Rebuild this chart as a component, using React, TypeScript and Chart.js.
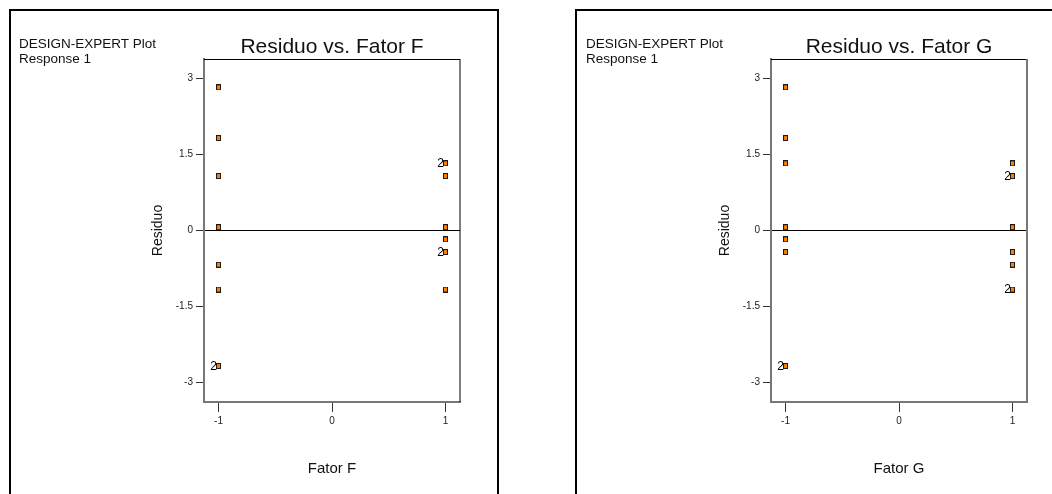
import React, { useEffect, useRef } from "react";
import { Chart, registerables } from "chart.js";

Chart.register(...registerables);

// ---- data ----
const fatorFLevels = [-1, -1, -1, -1, -1, -1, -1, 1, 1, 1, 1, 1, 1];
const residuoF = [2.82, 1.82, 1.07, 0.06, -0.68, -1.17, -2.68, 1.32, 1.07, 0.06, -0.18, -0.43, -1.17];
const countF = [1, 1, 1, 1, 1, 1, 2, 2, 1, 1, 1, 2, 1];

const fatorGLevels = [-1, -1, -1, -1, -1, -1, -1, 1, 1, 1, 1, 1, 1];
const residuoG = [2.82, 1.82, 1.32, 0.06, -0.18, -0.43, -2.68, 1.32, 1.07, 0.06, -0.43, -0.68, -1.17];
const countG = [1, 1, 1, 1, 1, 1, 2, 1, 2, 1, 1, 1, 2];

const yTickValues = [-3, -1.5, 0, 1.5, 3];
const yTickLabels = ["-3", "-1.5", "0", "1.5", "3"];
const xTickValues = [-1, 0, 1];
const xTickLabels = ["-1", "0", "1"];

const headerLines = ["DESIGN-EXPERT Plot", "Response 1"];
const yAxisTitle = "Residuo";

const FONT = '"Liberation Sans", Arial, Helvetica, sans-serif';

function makeMarker(): HTMLCanvasElement {
  const c = document.createElement("canvas");
  c.width = 5;
  c.height = 6;
  const g = c.getContext("2d")!;
  g.fillStyle = "#1a1a1a";
  g.fillRect(0, 0, 5, 6);
  g.fillStyle = "#ff8000";
  g.fillRect(1, 1, 3, 4);
  return c;
}

type PanelProps = {
  title: string;
  xTitle: string;
  levels: number[];
  values: number[];
  counts: number[];
  rightFrameColor: string;
  rightFrameWidth: number;
};

function Panel({ title, xTitle, levels, values, counts, rightFrameColor, rightFrameWidth }: PanelProps) {
  const ref = useRef<HTMLCanvasElement | null>(null);

  useEffect(() => {
    if (!ref.current) return;
    const marker = makeMarker();

    const textPlugin = {
      id: "dxText",
      beforeDatasetsDraw(chart: any) {
        const { ctx, chartArea } = chart;
        ctx.save();
        ctx.strokeStyle = "#000";
        ctx.lineWidth = 1;
        ctx.beginPath();
        ctx.moveTo(chartArea.left, chartArea.top + 0.5);
        ctx.lineTo(chartArea.right, chartArea.top + 0.5);
        ctx.stroke();
        ctx.strokeStyle = rightFrameColor;
        ctx.lineWidth = rightFrameWidth;
        ctx.beginPath();
        ctx.moveTo(chartArea.right, chartArea.top);
        ctx.lineTo(chartArea.right, chartArea.bottom);
        ctx.stroke();
        ctx.restore();
      },
      afterDraw(chart: any) {
        const { ctx, chartArea } = chart;
        const cx = (chartArea.left + chartArea.right) / 2;
        const cy = (chartArea.top + chartArea.bottom) / 2;
        ctx.save();
        ctx.fillStyle = "#111";
        ctx.font = `13.5px ${FONT}`;
        ctx.textAlign = "left";
        ctx.textBaseline = "alphabetic";
        headerLines.forEach((line, i) => ctx.fillText(line, 19, 48 + i * 15));
        ctx.font = `21px ${FONT}`;
        ctx.textAlign = "center";
        ctx.fillText(title, cx, chartArea.top - 6);
        ctx.font = `15px ${FONT}`;
        ctx.fillText(xTitle, cx, chartArea.bottom + 71);
        ctx.save();
        ctx.translate(chartArea.left - 46, cy);
        ctx.rotate(-Math.PI / 2);
        ctx.font = `14px ${FONT}`;
        ctx.textBaseline = "middle";
        ctx.fillText(yAxisTitle, 0, 0);
        ctx.restore();
        const meta = chart.getDatasetMeta(0);
        ctx.font = `12px ${FONT}`;
        ctx.textAlign = "right";
        ctx.textBaseline = "middle";
        ctx.fillStyle = "#000";
        meta.data.forEach((pt: any, i: number) => {
          if (counts[i] > 1) ctx.fillText(String(counts[i]), pt.x - 1.5, pt.y + 0.5);
        });
        ctx.restore();
      },
    };

    const chart = new Chart(ref.current, {
      type: "scatter",
      data: {
        datasets: [
          {
            data: levels.map((x, i) => ({ x, y: values[i] })),
            pointStyle: marker as any,
            pointRadius: 3,
            pointHoverRadius: 3,
            showLine: false,
          },
        ],
      },
      options: {
        responsive: false,
        animation: false,
        events: [],
        layout: { padding: { left: 164, top: 59, right: 25, bottom: 62 } },
        plugins: {
          legend: { display: false },
          tooltip: { enabled: false },
          title: { display: false },
        },
        scales: {
          x: {
            type: "linear",
            min: -1.128,
            max: 1.128,
            afterBuildTicks: (s: any) => {
              s.ticks = xTickValues.map((v) => ({ value: v }));
            },
            afterFit: (s: any) => {
              s.height = 30;
            },
            grid: {
              drawOnChartArea: false,
              drawTicks: true,
              tickLength: 10,
              tickColor: "#333",
              color: "#333",
            },
            border: { display: true, color: "#777", width: 2 },
            ticks: {
              padding: 3,
              color: "#222",
              autoSkip: false,
              maxRotation: 0,
              font: { family: FONT, size: 10 },
              callback: (v: any) => xTickLabels[xTickValues.indexOf(Number(v))],
            },
          },
          y: {
            type: "linear",
            min: -3.39,
            max: 3.38,
            afterBuildTicks: (s: any) => {
              s.ticks = yTickValues.map((v) => ({ value: v }));
            },
            afterFit: (s: any) => {
              s.width = 40;
            },
            grid: {
              drawOnChartArea: true,
              drawTicks: true,
              tickLength: 8,
              tickColor: "#333",
              color: (c: any) => (c.tick && c.tick.value === 0 ? "#000" : "rgba(0,0,0,0)"),
              lineWidth: 1,
            },
            border: { display: true, color: "#777", width: 2 },
            ticks: {
              padding: 3,
              color: "#222",
              autoSkip: false,
              font: { family: FONT, size: 10 },
              callback: (v: any) => yTickLabels[yTickValues.indexOf(Number(v))],
            },
          },
        },
      },
      plugins: [textPlugin],
    } as any);

    return () => chart.destroy();
  }, [title, xTitle, levels, values, counts, rightFrameColor, rightFrameWidth]);

  return <canvas ref={ref} width={485} height={494} style={{ display: "block", width: 485, height: 494 }} />;
}

export default function App() {
  return (
    <div
      style={{
        position: "absolute",
        left: 0,
        top: 0,
        width: 1052,
        height: 494,
        overflow: "hidden",
        background: "#fff",
      }}
    >
      <div
        style={{
          position: "absolute",
          left: 9,
          top: 9,
          width: 490,
          height: 600,
          border: "2px solid #000",
          boxSizing: "border-box",
        }}
      />
      <div
        style={{
          position: "absolute",
          left: 575,
          top: 9,
          width: 490,
          height: 600,
          border: "2px solid #000",
          boxSizing: "border-box",
        }}
      />
      <div style={{ position: "absolute", left: 0, top: 0 }}>
        <Panel
          title="Residuo vs. Fator F"
          xTitle="Fator F"
          levels={fatorFLevels}
          values={residuoF}
          counts={countF}
          rightFrameColor="#000"
          rightFrameWidth={1}
        />
      </div>
      <div style={{ position: "absolute", left: 567, top: 0 }}>
        <Panel
          title="Residuo vs. Fator G"
          xTitle="Fator G"
          levels={fatorGLevels}
          values={residuoG}
          counts={countG}
          rightFrameColor="#777"
          rightFrameWidth={2}
        />
      </div>
    </div>
  );
}
